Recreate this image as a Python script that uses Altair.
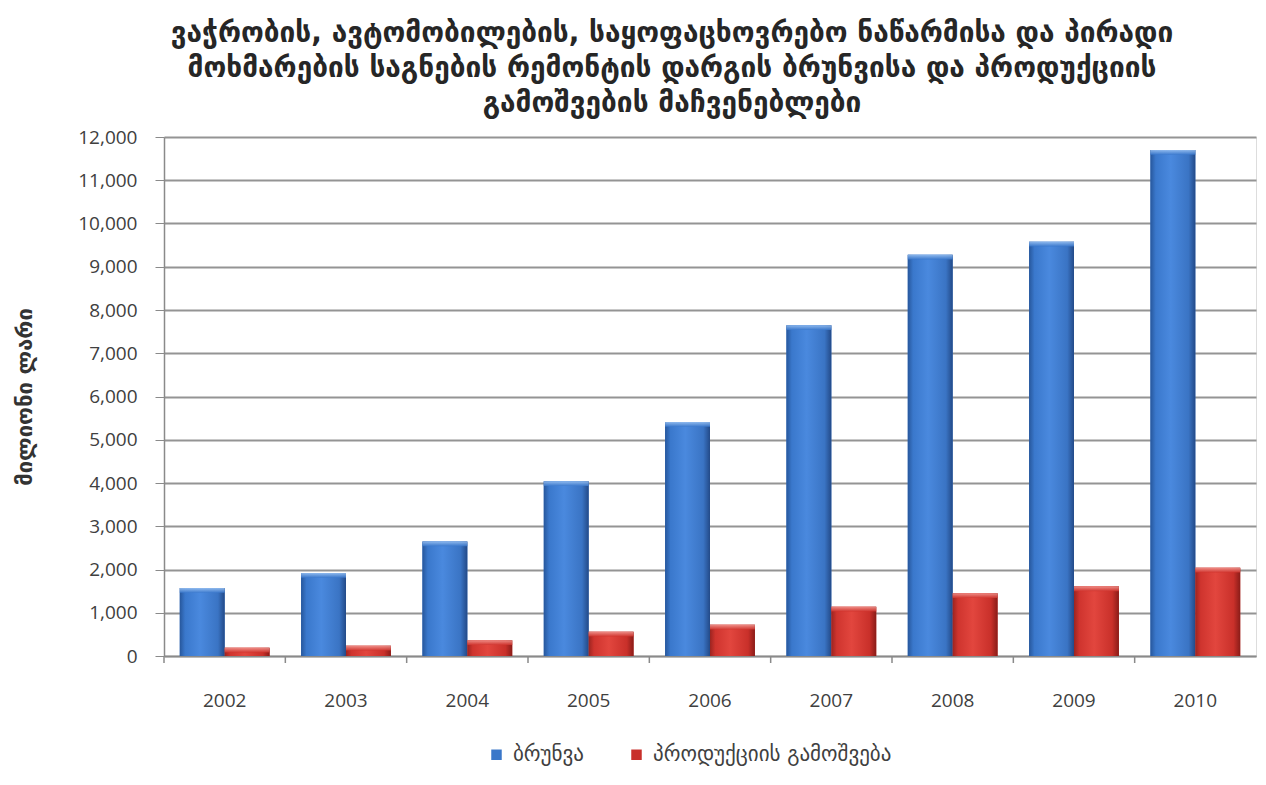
import altair as alt
import pandas as pd

years = ["2002", "2003", "2004", "2005", "2006", "2007", "2008", "2009", "2010"]
series_names = ["ბრუნვა", "პროდუქციის გამოშვება"]
turnover = [1570, 1920, 2650, 4040, 5410, 7650, 9280, 9580, 11700]
output = [190, 235, 365, 560, 720, 1140, 1450, 1610, 2040]
title_lines = [
    "ვაჭრობის, ავტომობილების, საყოფაცხოვრებო ნაწარმისა და პირადი",
    "მოხმარების საგნების რემონტის დარგის  ბრუნვისა და პროდუქციის",
    "გამოშვების მაჩვენებლები",
]
y_title = "მილიონი ლარი"

rows = []
for i, y in enumerate(years):
    rows.append({"year": y, "series": series_names[0], "value": turnover[i]})
    rows.append({"year": y, "series": series_names[1], "value": output[i]})
df = pd.DataFrame(rows)

W, H = 1092, 519
step = W / len(years)
GEORGIAN = "DejaVu Sans"

x_enc = alt.X("year:N", sort=years, title=None,
              scale=alt.Scale(paddingInner=0.26, paddingOuter=0.13),
              axis=alt.Axis(labelFont="Open Sans", labelFontSize=19, labelColor="#404040",
                            labelPadding=35, ticks=False, domainColor="#8a8a8a",
                            domainWidth=1.5, labelAngle=0))
y_enc = alt.Y("value:Q", scale=alt.Scale(domain=[0, 12000]),
              axis=alt.Axis(values=list(range(0, 12001, 1000)), format=",.0f",
                            title=y_title, titleFont=GEORGIAN, titleFontSize=22,
                            titleFontWeight="bold", titleColor="#333333",
                            titleAngle=-90, titleX=-140, titleY=H / 2,
                            titleAlign="center", titleBaseline="middle",
                            labelFont="Open Sans", labelFontSize=19, labelColor="#404040",
                            labelPadding=18, tickSize=9, tickColor="#8a8a8a",
                            domainColor="#8a8a8a", domainWidth=1.5,
                            gridColor="#949494", gridWidth=2))
xoff = alt.XOffset("series:N", sort=series_names,
                   scale=alt.Scale(domain=series_names, paddingInner=0, paddingOuter=0))

base = alt.Chart(df).mark_bar().encode(
    x=x_enc, y=y_enc, xOffset=xoff,
    color=alt.Color("series:N", sort=series_names,
                    scale=alt.Scale(domain=series_names, range=["#3a77c9", "#c8302b"]),
                    legend=alt.Legend(title=None, orient="none", direction="horizontal",
                                      legendX=322, legendY=607, symbolType="square",
                                      symbolSize=110, labelFont=GEORGIAN, labelFontSize=21,
                                      labelColor="#404040", columnPadding=42,
                                      labelOffset=6, labelLimit=500, symbolStrokeWidth=0)),
)

def side_grad(c0, c1, c2, c3, c4):
    return alt.Gradient(gradient="linear", x1=0, x2=1, y1=0, y2=0, stops=[
        alt.GradientStop(color=c0, offset=0),
        alt.GradientStop(color=c1, offset=0.12),
        alt.GradientStop(color=c2, offset=0.45),
        alt.GradientStop(color=c3, offset=0.85),
        alt.GradientStop(color=c4, offset=1),
    ])

def cap_grad(top, bottom):
    return alt.Gradient(gradient="linear", x1=0, x2=0, y1=0, y2=1, stops=[
        alt.GradientStop(color=top, offset=0),
        alt.GradientStop(color=bottom, offset=1),
    ])

blue_grad = side_grad("#27579c", "#3a78cc", "#4a89de", "#3a74c4", "#234a88")
red_grad = side_grad("#9c2420", "#cf342e", "#e2463e", "#c9302a", "#8a1c18")

def series_layers(name, grad, cap):
    sub = alt.Chart(df).transform_filter(alt.datum.series == name)
    body = sub.mark_bar(color=grad).encode(x=x_enc, y=y_enc, xOffset=xoff)
    top = sub.transform_calculate(capbase="max(datum.value - 110, 0)").mark_bar(
        color=cap, opacity=0.85).encode(
        x=x_enc, y=y_enc, y2=alt.Y2("capbase:Q"), xOffset=xoff)
    return [body, top]

blue_layers = series_layers(series_names[0], blue_grad, cap_grad("#9cc3f2", "#3a78cc"))
red_layers = series_layers(series_names[1], red_grad, cap_grad("#f29a94", "#d0342e"))

ticks_df = pd.DataFrame({"year": years})
ticks = alt.Chart(ticks_df).mark_rule(color="#8a8a8a", strokeWidth=1.5, xOffset=-step / 2).encode(
    x=alt.X("year:N", sort=years),
    y=alt.value(H), y2=alt.value(H + 7),
)

chart = alt.layer(base, *blue_layers, *red_layers, ticks).properties(
    width=W, height=H,
    title=alt.TitleParams(title_lines, font=GEORGIAN, fontSize=28, fontWeight="bold",
                          color="#262626", anchor="middle", dx=-38, offset=10,
                          lineHeight=35),
    autosize=alt.AutoSizeParams(type="none"),
    padding={"left": 156, "top": 129, "right": 2, "bottom": 120},
).configure_view(stroke=None).configure(background="white")

chart.save("out.html", embed_options={"renderer": "svg", "actions": False})
